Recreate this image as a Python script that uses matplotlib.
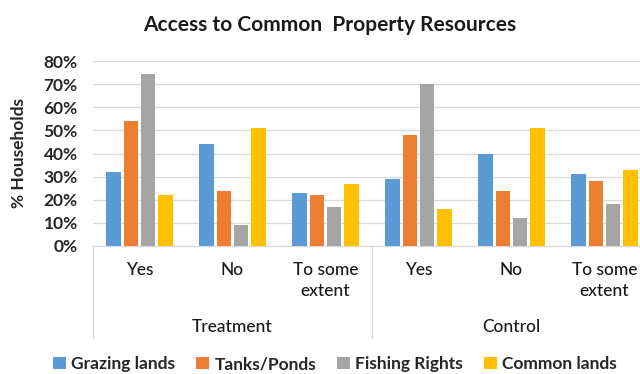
import matplotlib
matplotlib.use('Agg')
import matplotlib.pyplot as plt
from matplotlib.lines import Line2D
from matplotlib.ticker import PercentFormatter

plt.rcParams['font.family'] = ['Lato', 'DejaVu Sans']

groups = ['Treatment', 'Control']
answers = ['Yes', 'No', 'To some\nextent']
series = ['Grazing lands', 'Tanks/Ponds', 'Fishing Rights', 'Common lands']
colors = ['#5B9BD5', '#ED7D31', '#A5A5A5', '#FFC000']

# percent of households, Treatment (Yes, No, To some extent) then Control
grazing = [32, 44, 23, 29, 40, 31]
tanks = [54, 24, 22, 48, 24, 28]
fishing = [74.5, 9, 17, 70, 12, 18]
common = [22, 51, 27, 16, 51, 33]
values = [grazing, tanks, fishing, common]

W, H = 640, 374
fig = plt.figure(figsize=(W / 100, H / 100), dpi=100)
ax = fig.add_axes([93 / W, 1 - 246 / H, (651 - 93) / W, (246 - 61) / H])

n_cat = len(groups) * len(answers)
xs = list(range(n_cat))
pitch, bw = 0.186, 0.156
for i, (name, vals, c) in enumerate(zip(series, values, colors)):
    off = (i - 1.5) * pitch
    ax.bar([x + off for x in xs], [v / 100 for v in vals], width=bw,
           color=c, label=name, zorder=3)

ax.set_xlim(-0.5, n_cat - 0.5)
ax.set_ylim(0, 0.8)
ax.set_yticks([i / 10 for i in range(9)])
ax.yaxis.set_major_formatter(PercentFormatter(1.0, decimals=0))
ax.tick_params(axis='y', length=0, pad=11, labelsize=12.5, labelcolor='#262626')
for lab in ax.get_yticklabels():
    lab.set_fontweight('bold')
ax.set_xticks([])
ax.grid(axis='y', color='#d9d9d9', linewidth=0.9, zorder=0)
for s in ['top', 'right', 'left']:
    ax.spines[s].set_visible(False)
ax.spines['bottom'].set_color('#d9d9d9')
ax.spines['bottom'].set_linewidth(0.9)

# two-level category axis
tr = ax.get_xaxis_transform()
for x in xs:
    ax.annotate(answers[x % 3], xy=(x, 0), xycoords=tr,
                xytext=(0, -16), textcoords='offset pixels',
                ha='center', va='top', fontsize=12.5, color='#1a1a1a',
                fontweight='medium', linespacing=1.4)
for g, name in enumerate(groups):
    ax.annotate(name, xy=(g * 3 + 1, 0), xycoords=tr,
                xytext=(0, -73), textcoords='offset pixels',
                ha='center', va='top', fontsize=12.5, color='#1a1a1a',
                fontweight='medium')
for xb in [-0.5, 2.5, 5.5]:
    ax.add_line(Line2D([xb, xb], [0, -92 / 185], transform=tr,
                       color='#d9d9d9', linewidth=0.9, clip_on=False))

ax.set_ylabel('% Households', fontsize=12.5, fontweight='bold',
              color='#262626')
ax.yaxis.set_label_coords((27 - 93) / 558, 0.5)

fig.text(330 / W, 1 - 25 / H, 'Access to Common  Property Resources',
         ha='center', va='center', fontsize=15, fontweight='bold',
         color='#1a1a1a')

fig.legend(loc='center', bbox_to_anchor=(335 / W, 1 - 364 / H), ncol=4,
           frameon=False, handlelength=0.75, handleheight=0.75,
           handletextpad=0.3, columnspacing=1.2,
           prop={'size': 12.5, 'weight': 'bold'}, labelcolor='#262626')

fig.savefig('out.png', dpi=100)
